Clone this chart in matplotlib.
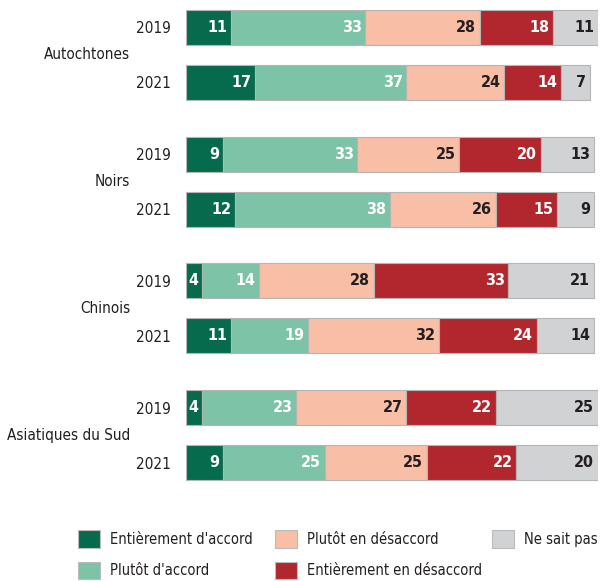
import matplotlib.pyplot as plt
import numpy as np
from matplotlib import font_manager

# pick a narrow font if one is installed
names = {f.name for f in font_manager.fontManager.ttflist}
cond = [f for f in font_manager.fontManager.ttflist
        if f.name == 'DejaVu Sans' and 'Condensed' in f.fname]
if 'Liberation Sans Narrow' in names:
    plt.rcParams['font.family'] = ['Liberation Sans Narrow', 'DejaVu Sans']
elif cond:
    plt.rcParams['font.family'] = ['DejaVu Sans']
    plt.rcParams['font.stretch'] = 'condensed'
else:
    plt.rcParams['font.family'] = ['DejaVu Sans']

groups = ['Autochtones', 'Noirs', 'Chinois', 'Asiatiques du Sud']
years = ['2019', '2021']
categories = ["Entièrement d'accord", "Plutôt d'accord", "Plutôt en désaccord",
              "Entièrement en désaccord", "Ne sait pas"]

# rows: group x year (2019, 2021)
entierement_accord = [11, 17, 9, 12, 4, 11, 4, 9]
plutot_accord = [33, 37, 33, 38, 14, 19, 23, 25]
plutot_desaccord = [28, 24, 25, 26, 28, 32, 27, 25]
entierement_desaccord = [18, 14, 20, 15, 33, 24, 22, 22]
ne_sait_pas = [11, 7, 13, 9, 21, 14, 25, 20]

colors = ['#056b4c', '#7dc3a7', '#f9bea6', '#b2262e', '#d1d2d4']
text_colors = ['white', 'white', '#231f20', 'white', '#231f20']

series = [entierement_accord, plutot_accord, plutot_desaccord,
          entierement_desaccord, ne_sait_pas]

fig = plt.figure(figsize=(6.02, 5.81), dpi=100)
ax = fig.add_axes([186 / 602, 1 - 490 / 581, 412 / 602, 490 / 581])

gap_group = 127 / 55
ypos = []
for g in range(len(groups)):
    ypos.append(g * gap_group)
    ypos.append(g * gap_group + 1)
ypos = np.array(ypos)

fs = 11.5
left = np.zeros(len(ypos))
for i, vals in enumerate(series):
    vals = np.array(vals)
    ax.barh(ypos, vals, left=left, height=0.64, color=colors[i],
            edgecolor='#b5b5b5', linewidth=0.8, label=categories[i])
    for y, l, v in zip(ypos, left, vals):
        ax.text(l + v - 0.9, y, str(v), ha='right', va='center',
                color=text_colors[i], fontsize=fs, fontweight='bold')
    left += vals

ax.set_xlim(0, 101)
ax.set_ylim(ypos[-1] + 0.5, ypos[0] - 0.5)
ax.set_yticks(ypos)
ax.set_yticklabels(years * len(groups), fontsize=11, color='#231f20')
ax.tick_params(axis='y', length=0, pad=11)
ax.set_xticks([])
for s in ax.spines.values():
    s.set_visible(False)

for g, name in enumerate(groups):
    yc = g * gap_group + 0.5
    ax.text(-56 / 412, yc, name, transform=ax.get_yaxis_transform(),
            ha='right', va='center', fontsize=11, color='#231f20')

# legend: three columns placed by hand
handles, labels = ax.get_legend_handles_labels()
lfs = 10.5
cols = [(0, 2, 78), (2, 4, 275), (4, 5, 492)]
for a, b, x in cols:
    leg = fig.legend(handles[a:b], labels[a:b], loc='upper left',
                     bbox_to_anchor=(x / 602, 1 - 530 / 581), frameon=False,
                     fontsize=lfs, handlelength=1.5, handleheight=1.5,
                     labelspacing=0.95, handletextpad=0.7, borderpad=0,
                     borderaxespad=0)
    for t in leg.get_texts():
        t.set_color('#231f20')
    for p in leg.get_patches():
        p.set_edgecolor('#bbbbbb')

fig.savefig('out.png', dpi=100)
